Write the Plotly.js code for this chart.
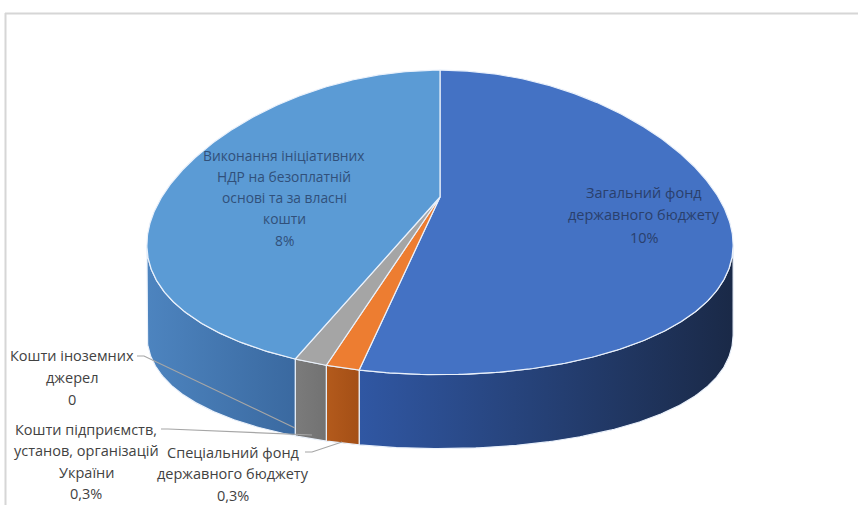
<!DOCTYPE html>
<html>
<head>
<meta charset="utf-8">
<script src="https://cdn.plot.ly/plotly-3.0.1.min.js"></script>
<style>html,body{margin:0;padding:0;background:#fff;}#chart{width:858px;height:505px;}</style>
</head>
<body>
<div id="chart"></div>
<script>
// ---- data ----
const categories = [
  "Загальний фонд<br>державного бюджету",
  "Спеціальний фонд<br>державного бюджету",
  "Кошти підприємств,<br>установ, організацій<br>України",
  "Кошти іноземних<br>джерел",
  "Виконання ініціативних<br>НДР на безоплатній<br>основі та за власні<br>кошти"
];
const values = [10, 0.3, 0.3, 0, 8];
const valueLabels = ["10%", "0,3%", "0,3%", "0", "8%"];
const topColors = ["#4472C4", "#ED7D31", "#A5A5A5", "#FFC000", "#5B9BD5"];
const sideColorsLeft = ["#3057a3", "#b35a1c", "#7b7b7b", "#c49000", "#4d84bf"];
const sideColorsRight = ["#1a2947", "#a44f16", "#727272", "#b08000", "#3a69a0"];

// ---- geometry of the tilted pie ----
const CX = 440, CY = 197, A = 289, B = 148, P = 0.167, BULGE = 23, DEPTH0 = 74, DEPTH1 = 16;
function proj(theta, withDrop) {
  const u = Math.sin(theta), v = -Math.cos(theta);
  const s = 1 / (1 - P * v);
  const drop = withDrop ? DEPTH0 + DEPTH1 * u * u : 0;
  return [CX + A * u * s, CY + B * v * s + BULGE * u * u + drop];
}
const total = values.reduce((a, b) => a + b, 0);
const starts = [], ends = [];
let acc = 0;
values.forEach(v => { starts.push(acc / total * 2 * Math.PI); acc += v; ends.push(acc / total * 2 * Math.PI); });

const visA = Math.acos(-P);               // right silhouette angle
const visB = 2 * Math.PI - Math.acos(-P); // left silhouette angle

const traces = [];
// sides
values.forEach((v, i) => {
  if (v <= 0) return;
  const a0 = Math.max(starts[i], visA), a1 = Math.min(ends[i], visB);
  if (a1 <= a0) return;
  const xs = [], ys = [];
  const n = Math.max(4, Math.ceil((a1 - a0) / 0.01));
  for (let k = 0; k <= n; k++) { const p = proj(a0 + (a1 - a0) * k / n, false); xs.push(p[0]); ys.push(p[1]); }
  for (let k = n; k >= 0; k--) { const p = proj(a0 + (a1 - a0) * k / n, true); xs.push(p[0]); ys.push(p[1]); }
  xs.push(xs[0]); ys.push(ys[0]);
  traces.push({
    type: "scatter", mode: "lines", x: xs, y: ys, fill: "toself",
    fillcolor: sideColorsLeft[i],
    fillgradient: { type: "horizontal", colorscale: [[0, sideColorsLeft[i]], [1, sideColorsRight[i]]] },
    line: { color: "#eaf1fb", width: 1.2 }, hoverinfo: "skip", showlegend: false
  });
});
// tops
values.forEach((v, i) => {
  if (v <= 0) return;
  const a0 = starts[i], a1 = ends[i];
  const xs = [CX], ys = [CY];
  const n = Math.max(4, Math.ceil((a1 - a0) / 0.01));
  for (let k = 0; k <= n; k++) { const p = proj(a0 + (a1 - a0) * k / n, false); xs.push(p[0]); ys.push(p[1]); }
  xs.push(CX); ys.push(CY);
  traces.push({
    type: "scatter", mode: "lines", x: xs, y: ys, fill: "toself",
    fillcolor: topColors[i], line: { color: "#eaf1fb", width: 1.2 },
    hoverinfo: "skip", showlegend: false, name: categories[i]
  });
});

// ---- labels ----
const annotations = [];
const FONT = "Open Sans, Noto Sans, sans-serif";
function addLabel(i, cx, y0, gap, size, color) {
  const lines = categories[i].split("<br>").concat([valueLabels[i]]);
  lines.forEach((t, k) => annotations.push({
    x: cx, y: y0 + k * gap, xref: "x", yref: "y", text: t, showarrow: false,
    xanchor: "center", yanchor: "middle",
    font: { family: FONT, size: size, color: color }
  }));
}
addLabel(0, 644, 192, 22.5, 14.5, "#2a406c");
addLabel(4, 284, 155, 21.3, 13.8, "#31507a");
addLabel(3, 72, 355, 22, 14.5, "#424242");
addLabel(2, 86, 429, 21.5, 14.5, "#424242");
addLabel(1, 233, 452, 21.5, 14.5, "#424242");

const leaderColor = "#a6a6a6";
const shapes = [
  { type: "line", xref: "paper", yref: "paper", x0: 5 / 858, x1: 1, y0: 1 - 13.5 / 505, y1: 1 - 13.5 / 505, line: { color: "#d6d6d6", width: 2 } },
  { type: "line", xref: "paper", yref: "paper", x0: 5.5 / 858, x1: 5.5 / 858, y0: 0, y1: 1 - 13 / 505, line: { color: "#d6d6d6", width: 2 } },
  { type: "path", xref: "x", yref: "y", path: "M 137 356 L 144 356 L 295 428", line: { color: leaderColor, width: 1.2 } },
  { type: "path", xref: "x", yref: "y", path: "M 161 429 L 168 429 L 312 435", line: { color: leaderColor, width: 1.2 } },
  { type: "path", xref: "x", yref: "y", path: "M 305 452 L 312 452 L 342 442", line: { color: leaderColor, width: 1.2 } }
];

const layout = {
  width: 858, height: 505,
  margin: { l: 0, r: 0, t: 0, b: 0 },
  paper_bgcolor: "#ffffff", plot_bgcolor: "#ffffff",
  xaxis: { range: [0, 858], visible: false, fixedrange: true },
  yaxis: { range: [505, 0], visible: false, fixedrange: true },
  showlegend: false,
  annotations: annotations,
  shapes: shapes
};
Plotly.newPlot("chart", traces, layout, { staticPlot: true });
</script>
</body>
</html>
